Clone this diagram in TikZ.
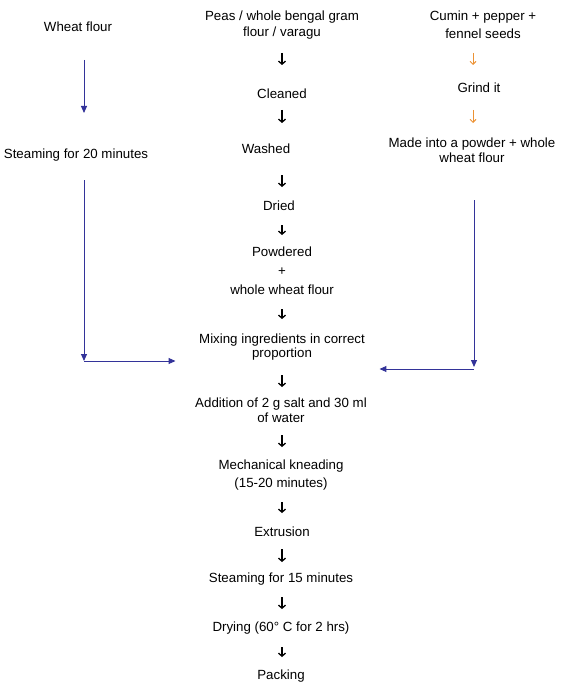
\documentclass[tikz,border=0pt]{standalone}
\usepackage{fontspec}
\setmainfont{Liberation Sans}
\usetikzlibrary{arrows.meta}
\usetikzlibrary{calc}

\definecolor{flowblue}{RGB}{51,51,153}
\definecolor{floworange}{RGB}{236,146,52}

\begin{document}
\begin{tikzpicture}[
        x = 1pt, y = -1pt,
        txt/.style = {inner sep = 0pt, align = center,
                      font = \fontsize{13.3}{#1}\selectfont},
        txt/.default = 16,
        flowarrow/.style 2 args = {draw, line width = 1.3pt,
                      -{Straight Barb[length=3pt,width=7pt]},
                      shorten <= #1pt, shorten >= #2pt},
        spicearrow/.style 2 args = {draw = floworange, line width = 0.9pt,
                      -{Straight Barb[length=3pt,width=6pt]},
                      shorten <= #1pt, shorten >= #2pt},
        blueline/.style = {draw = flowblue, line width = 1pt,
                      -{Triangle[length=7pt,width=6pt]}},
        ]
    \useasboundingbox (0,0) rectangle (562,687);

    % columns of the arrows
    \coordinate (axis) at (282,0);
    \coordinate (oaxis) at (473,0);
    \coordinate (laxis) at (84,0);
    \coordinate (raxis) at (474,0);

    % left column
    \node[txt] (wheat) at (78,27) {Wheat flour};
    \node[txt] (steam20) at (76,155) {Steaming for 20 minutes};

    % middle column
    \node[txt] (peas) at (282,25) {Peas / whole bengal gram\\flour / varagu};
    \node[txt] (cleaned) at (282,94) {Cleaned};
    \node[txt] (washed) at (266,149) {Washed};
    \node[txt] (dried) at (279,206) {Dried};
    \node[txt=19] (powdered) at (282,271) {Powdered\\+\\whole wheat flour};
    \node[txt=14.5] (mixing) at (282,347) {Mixing ingredients in correct\\proportion};
    \node[txt=14.5] (addition) at (281,410) {Addition of 2 g salt and 30 ml\\of water};
    \node[txt=18] (kneading) at (281,475) {Mechanical kneading\\(15-20 minutes)};
    \node[txt] (extrusion) at (282,532) {Extrusion};
    \node[txt] (steam15) at (281,579) {Steaming for 15 minutes};
    \node[txt] (drying) at (281,628) {Drying (60° C for 2 hrs)};
    \node[txt] (packing) at (281,676) {Packing};

    % right column
    \node[txt=18] (cumin) at (483,25) {Cumin + pepper +\\fennel seeds};
    \node[txt] (grind) at (479,88) {Grind it};
    \node[txt=15] (powder) at (472,150) {Made into a powder + whole\\wheat flour};

    % process steps
    \foreach \a/\b/\s/\e in {peas/cleaned/28/29, cleaned/washed/16/26,
            washed/dried/26/19, dried/powdered/19/36, powdered/mixing/38/28,
            mixing/addition/28/23, addition/kneading/25/28,
            kneading/extrusion/27/19, extrusion/steam15/17/17,
            steam15/drying/18/19, drying/packing/19/19}
        \draw[flowarrow={\s}{\e}] (\a -| axis) -- (\b -| axis);

    \draw[spicearrow={28}{23}] (cumin -| oaxis) -- (grind -| oaxis);
    \draw[spicearrow={22}{27}] (grind -| oaxis) -- (powder -| oaxis);

    % wheat flour branch
    \coordinate (lcorner) at (84,361);
    \draw[blueline, shorten <= 33pt, shorten >= 42pt] (wheat -| laxis) -- (steam20 -| laxis);
    \draw[blueline, shorten <= 25pt] (steam20 -| laxis) -- (lcorner);
    \draw[blueline, shorten >= 23.5pt] (lcorner) -- (mixing.west |- lcorner);

    % spice branch
    \coordinate (rcorner) at (474,369);
    \draw[blueline, shorten <= 50pt, shorten >= 2pt] (powder -| raxis) -- (rcorner);
    \draw[blueline, shorten >= 14.5pt] (rcorner) -- (mixing.east |- rcorner);
\end{tikzpicture}
\end{document}
